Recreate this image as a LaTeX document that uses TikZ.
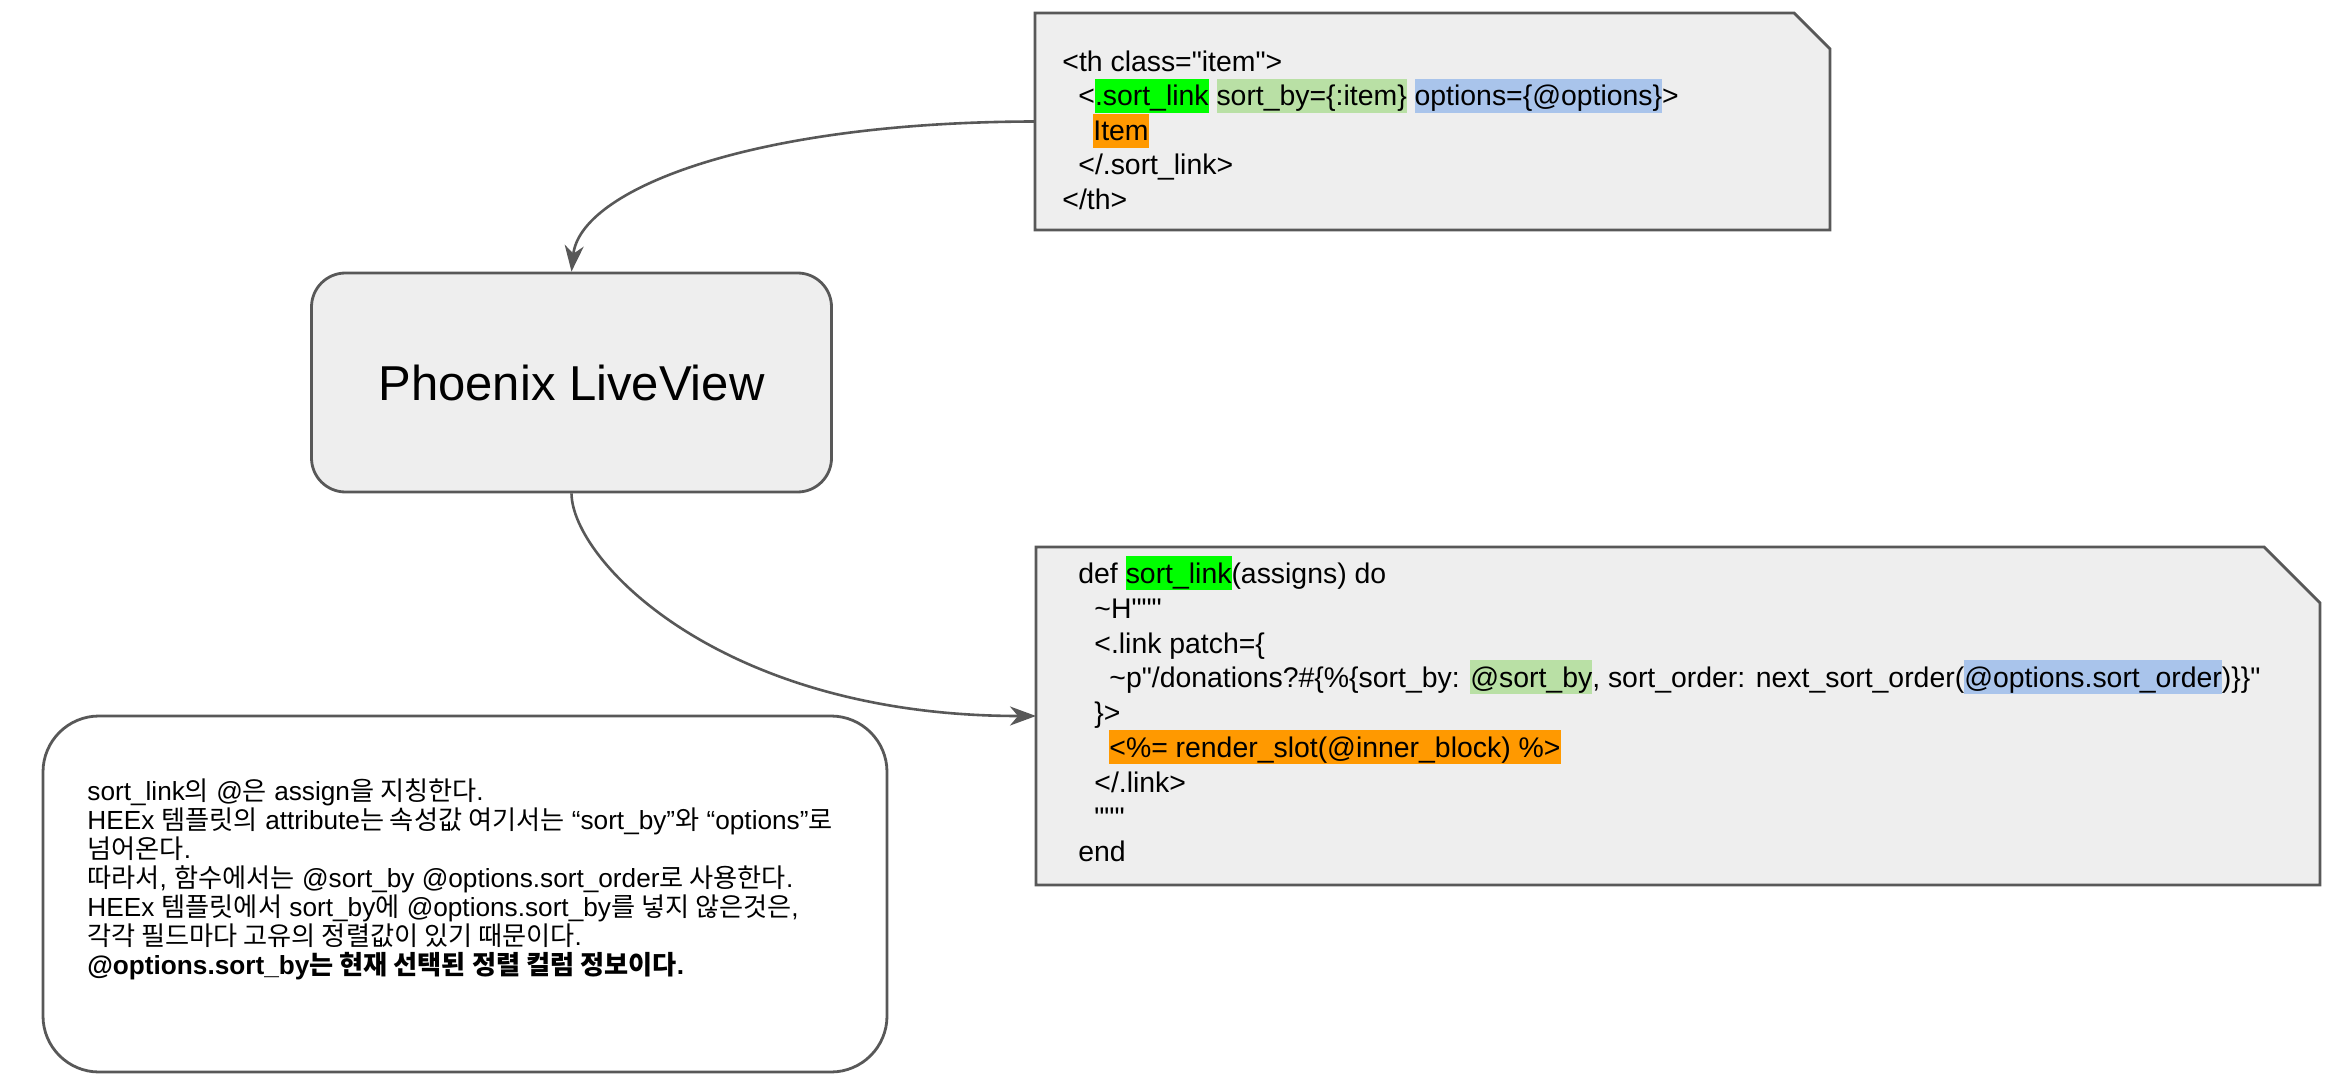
\documentclass[tikz,border=0pt]{standalone}
\usepackage{fontspec}
\setmainfont{Liberation Sans}[Ligatures=TeXOff]
\newfontfamily\krfont{Noto Sans CJK KR}
\usetikzlibrary{arrows.meta,calc}
\definecolor{boxfill}{HTML}{EEEEEE}
\definecolor{boxline}{HTML}{585858}
\definecolor{hlgreen}{HTML}{00FF00}
\definecolor{hllg}{HTML}{B9E0A5}
\definecolor{hlblue}{HTML}{A9C4EB}
\definecolor{hlorange}{HTML}{FF9900}
\newcommand\krtext[1]{{\krfont #1}}
\newcommand\hlbox[2]{{\setlength\fboxsep{0pt}\colorbox{#1}{\rule[-3.5pt]{0pt}{17pt}#2}}}
\newcommand\codesize{\fontsize{14.2}{17.4}\selectfont}
\newcommand\notesize{\fontsize{13.1}{14.5}\selectfont}
\begin{document}
\begin{tikzpicture}[x=0.5pt,y=-0.5pt,
  outline/.style={draw=boxline, line width=1.4pt, fill=boxfill},
  area/.style={inner sep=0pt, outer sep=0pt, draw=none},
  codeline/.style={anchor=base west, inner sep=0pt, font=\codesize},
  noteline/.style={anchor=base west, inner sep=0pt, font=\notesize},
  conn/.style={draw=boxline, line width=1.3pt, -{Stealth[length=13pt,width=9.5pt,inset=4pt]}}]
\useasboundingbox (0,0) rectangle (2338,1085);

% Phoenix LiveView
\node[outline, rounded corners=17pt, minimum width=260pt, minimum height=109.5pt, inner sep=0pt,
      font=\fontsize{24.5}{29}\selectfont] (phx) at (571.5,382.5) {Phoenix LiveView};

% top code note
\node[area, minimum width=397.5pt, minimum height=108.5pt] (code1) at (1432.5,121.5) {};
\draw[outline] (code1.north west) -- ($(code1.north east)+(-36,0)$) -- ($(code1.north east)+(0,36)$)
  -- (code1.south east) -- (code1.south west) -- cycle;

% bottom code note
\node[area, minimum width=642pt, minimum height=169pt] (code2) at (1678,716) {};
\draw[outline] (code2.north west) -- ($(code2.north east)+(-56,0)$) -- ($(code2.north east)+(0,56)$)
  -- (code2.south east) -- (code2.south west) -- cycle;

% explanation note
\node[draw=boxline, line width=1.4pt, fill=white, rounded corners=28pt, minimum width=422pt,
      minimum height=178pt, inner sep=0pt] (expl) at (465,894) {};

% top code text
\node[codeline] (a1) at (1062,72) {<th class="item">};
\node[codeline] (a2) at (1078,106) {<\hlbox{hlgreen}{.sort\_link} \hlbox{hllg}{sort\_by=\{:item\}} \hlbox{hlblue}{options=\{@options\}}>};
\node[codeline] (a3) at (1093,141) {\hlbox{hlorange}{Item}};
\node[codeline] (a4) at (1078,175) {</.sort\_link>};
\node[codeline] (a5) at (1062,210) {</th>};

% bottom code text
\node[codeline] (b1) at (1078,583) {def \hlbox{hlgreen}{sort\_link}(assigns) do};
\node[codeline] (b2) at (1094,618) {\textasciitilde H"""};
\node[codeline] (b3) at (1094,653) {<.link patch=\{};
\node[codeline] (b4) at (1109,687) {\textasciitilde p"/donations?\#\{\%\{sort\_by: \hlbox{hllg}{@sort\_by}, sort\_order: next\_sort\_order(\hlbox{hlblue}{@options.sort\_order})\}\}"};
\node[codeline] (b5) at (1094,722) {\}>};
\node[codeline] (b6) at (1109,757) {\hlbox{hlorange}{<\%= render\_slot(@inner\_block) \%>}};
\node[codeline] (b7) at (1094,792) {</.link>};
\node[codeline] (b8) at (1094,827) {"""};
\node[codeline] (b9) at (1078,861) {end};

% explanation text
\node[noteline] (n1) at (87,800) {sort\_link\krtext{의} @\krtext{은} assign\krtext{을 지칭한다}.};
\node[noteline] (n2) at (87,829) {HEEx \krtext{템플릿의} attribute\krtext{는 속성값 여기서는} “sort\_by”\krtext{와} “options”\krtext{로}};
\node[noteline] (n3) at (87,858) {\krtext{넘어온다}.};
\node[noteline] (n4) at (87,887) {\krtext{따라서}, \krtext{함수에서는} @sort\_by @options.sort\_order\krtext{로 사용한다}.};
\node[noteline] (n5) at (87,916) {HEEx \krtext{템플릿에서} sort\_by\krtext{에} @options.sort\_by\krtext{를 넣지 않은것은},};
\node[noteline] (n6) at (87,945) {\krtext{각각 필드마다 고유의 정렬값이 있기 때문이다}.};
\node[noteline, font=\notesize\bfseries] (n7) at (87,974) {@options.sort\_by\krtext{는 현재 선택된 정렬 컬럼 정보이다}.};

% connectors
\draw[conn] (code1.west) .. controls (750,122) and (580,190) .. (phx.north);
\draw[conn] (phx.south) .. controls (572,560) and (720,716) .. (code2.west);
\end{tikzpicture}
\end{document}
